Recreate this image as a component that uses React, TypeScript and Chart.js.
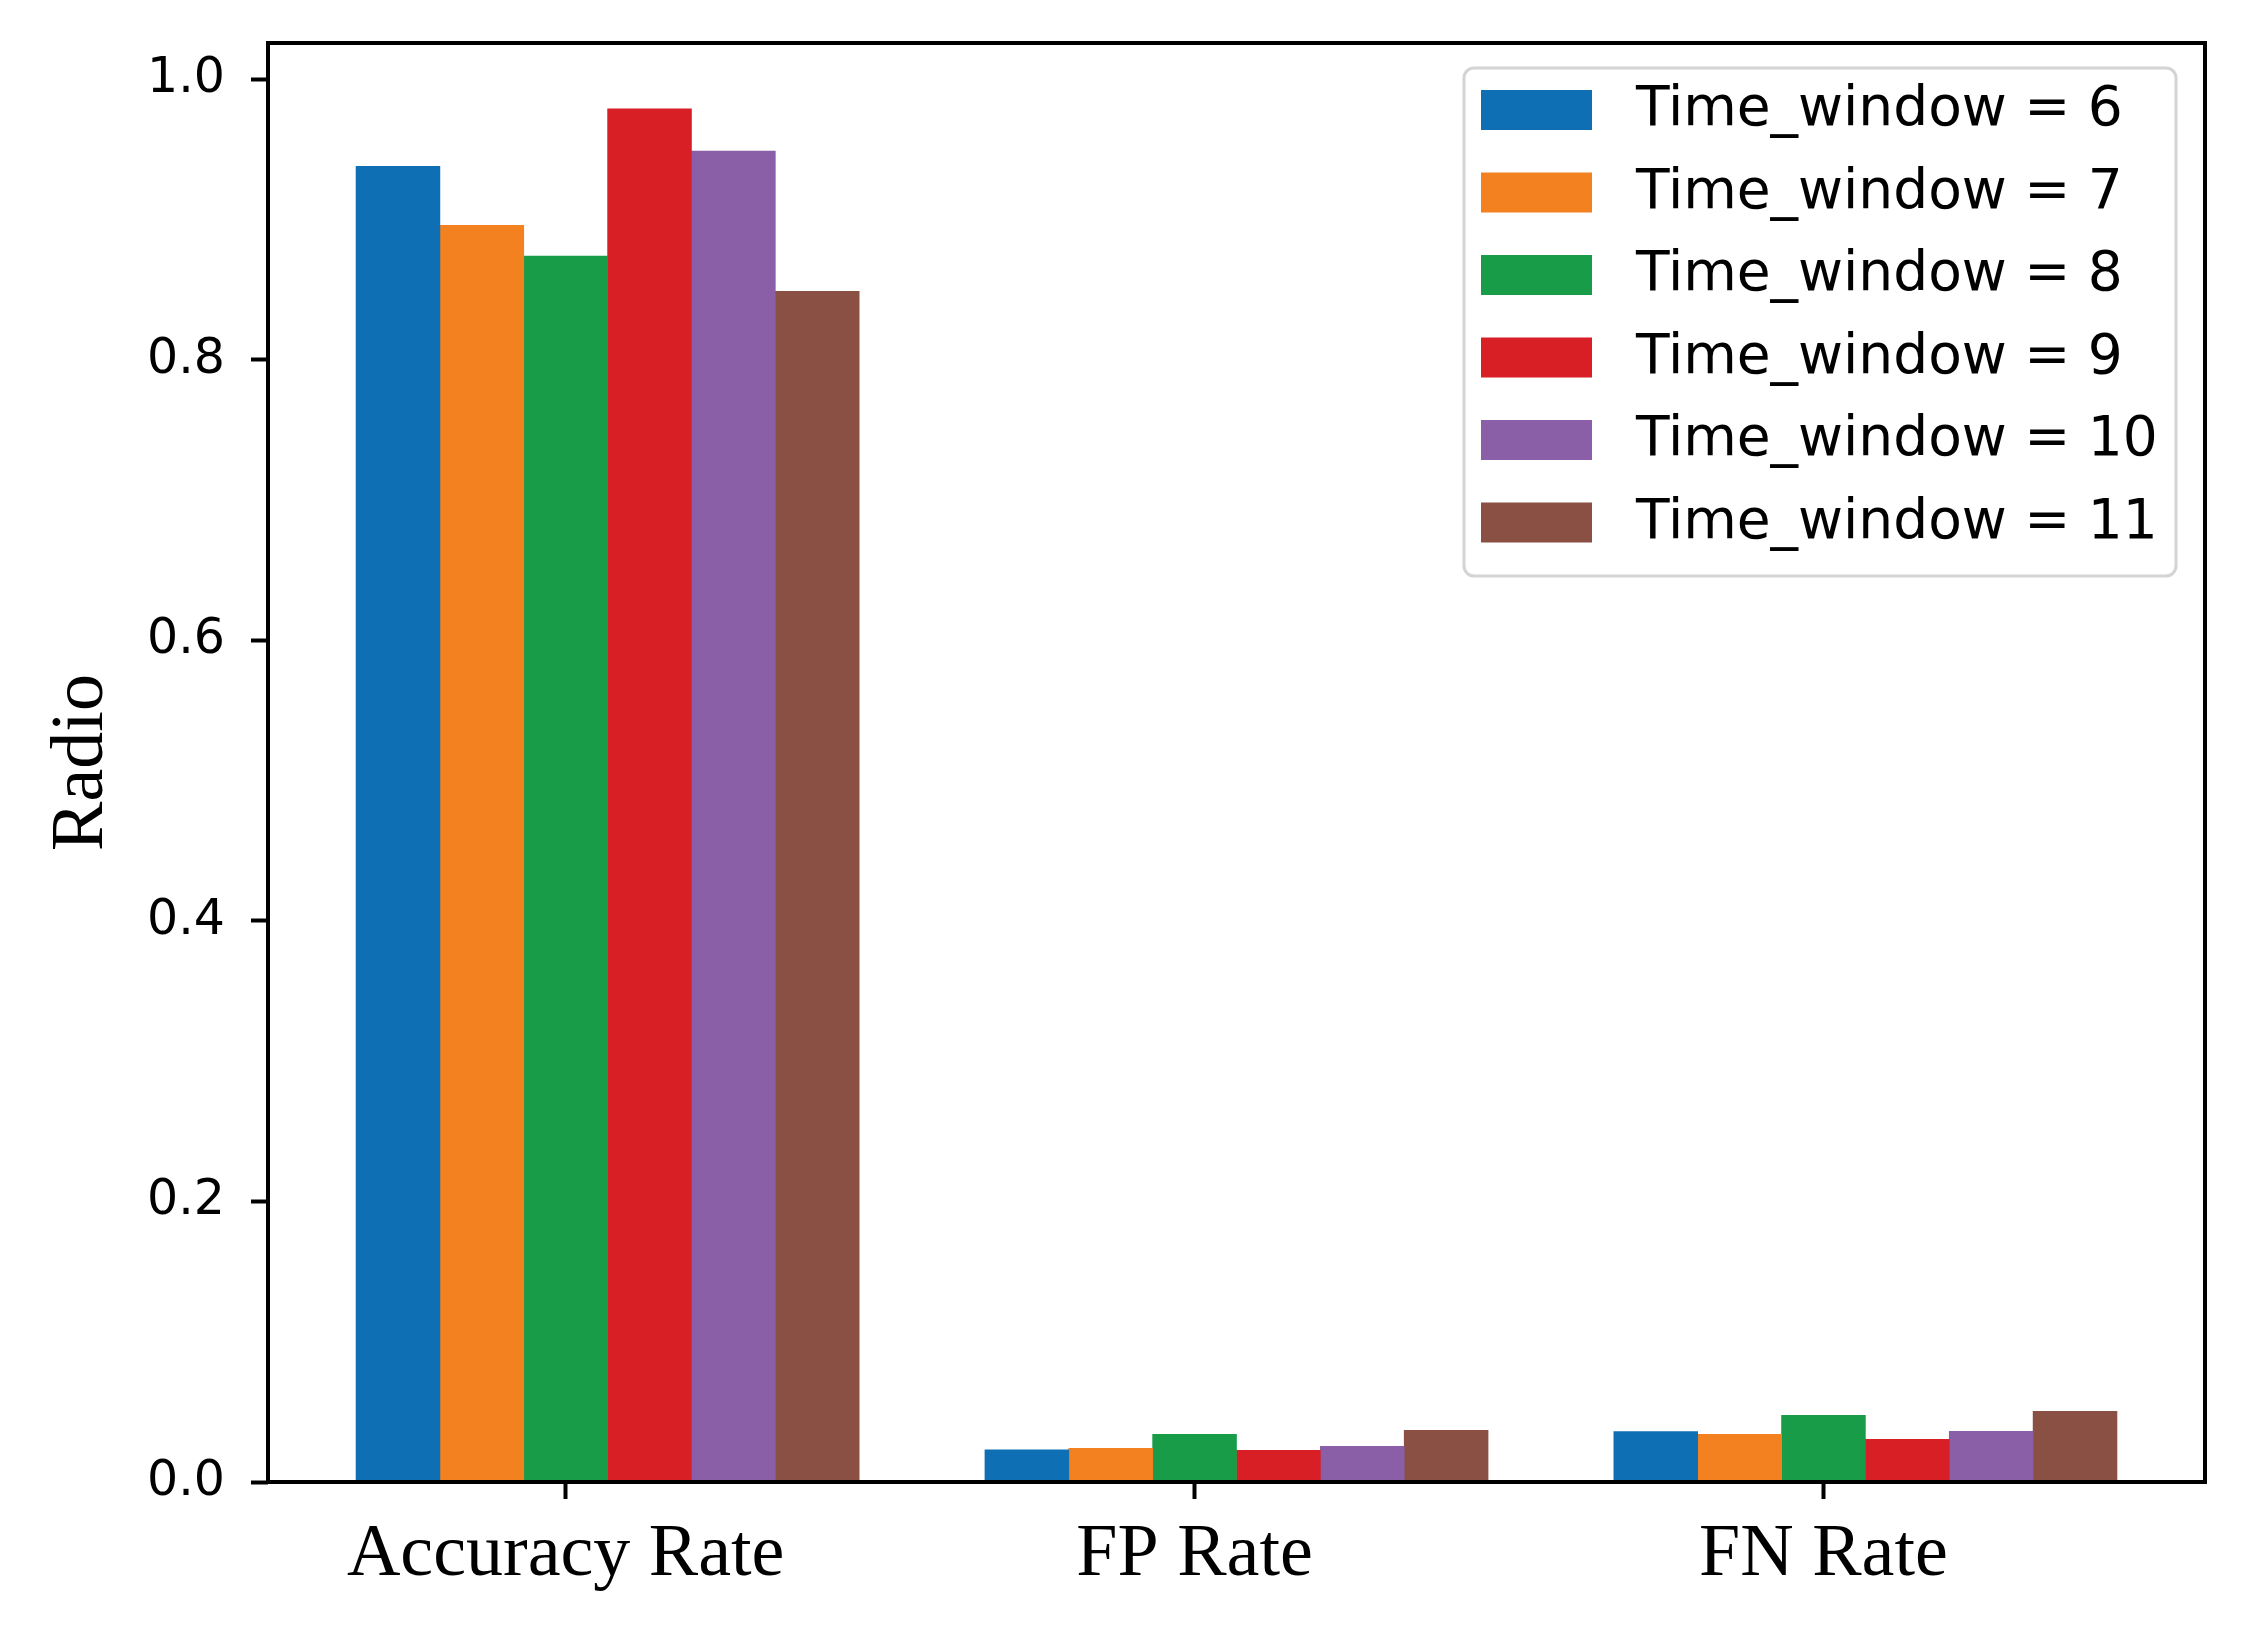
import React, { useEffect, useRef } from 'react';
import { Chart, registerables } from 'chart.js';

Chart.register(...registerables);

const categories = ['Accuracy Rate', 'FP Rate', 'FN Rate'];
const seriesLabels = [
  'Time_window = 6',
  'Time_window = 7',
  'Time_window = 8',
  'Time_window = 9',
  'Time_window = 10',
  'Time_window = 11',
];
const tw6 = [0.938, 0.023, 0.036];
const tw7 = [0.896, 0.024, 0.034];
const tw8 = [0.874, 0.034, 0.0475];
const tw9 = [0.979, 0.0226, 0.0304];
const tw10 = [0.949, 0.0254, 0.0361];
const tw11 = [0.849, 0.0368, 0.0503];
const seriesValues = [tw6, tw7, tw8, tw9, tw10, tw11];
const yTicks = [0, 0.2, 0.4, 0.6, 0.8, 1.0];
const colors = ['#0f6fb4', '#f48120', '#189c47', '#d81f26', '#8a5fa8', '#8a5043'];

const BAR_W = 0.8 / 6;
const X_LO = -2.5 * BAR_W;
const X_HI = categories.length - 1 + 3.5 * BAR_W;
const X_MARGIN = 0.05 * (X_HI - X_LO);
const Y_MAX = 1.026;

const TICK_FONT = { family: 'DejaVu Sans', size: 49 };
const SERIF_FONT = { family: 'Liberation Serif', size: 74 };

const frameAndLegend = {
  id: 'frameAndLegend',
  afterDraw(chart: any) {
    const ctx = chart.ctx as CanvasRenderingContext2D;
    const { left, right, top, bottom } = chart.chartArea;
    ctx.save();
    // frame
    ctx.strokeStyle = '#000';
    ctx.lineWidth = 4;
    ctx.strokeRect(left, top, right - left, bottom - top);

    // legend
    const boxW = 712;
    const boxH = 508;
    const boxL = right - 29 - boxW;
    const boxT = top + 25;
    ctx.beginPath();
    if ((ctx as any).roundRect) {
      (ctx as any).roundRect(boxL, boxT, boxW, boxH, 10);
    } else {
      ctx.rect(boxL, boxT, boxW, boxH);
    }
    ctx.fillStyle = 'rgba(255,255,255,0.85)';
    ctx.fill();
    ctx.strokeStyle = '#d4d4d4';
    ctx.lineWidth = 3;
    ctx.stroke();

    ctx.font = '55px "DejaVu Sans"';
    ctx.textBaseline = 'middle';
    ctx.textAlign = 'left';
    chart.data.datasets.forEach((ds: any, i: number) => {
      const cy = boxT + 42 + i * 82.5;
      ctx.fillStyle = ds.backgroundColor;
      ctx.fillRect(boxL + 17, cy - 20, 111, 40);
      ctx.fillStyle = '#000';
      ctx.fillText(ds.label, boxL + 172, cy + 1);
    });
    ctx.restore();
  },
};

const zeroPadding = (scale: any) => {
  scale.paddingTop = 0;
  scale.paddingBottom = 0;
  scale.paddingLeft = 0;
  scale.paddingRight = 0;
};

export default function App() {
  const canvasRef = useRef<HTMLCanvasElement | null>(null);

  useEffect(() => {
    document.body.style.margin = '0';
    document.body.style.overflow = 'hidden';
    const canvas = canvasRef.current;
    if (!canvas) return;

    const datasets = seriesValues.map((vals, k) => ({
      label: seriesLabels[k],
      backgroundColor: colors[k],
      borderWidth: 0,
      grouped: false,
      barPercentage: 1,
      categoryPercentage: 1,
      data: vals.map((v, g) => ({ x: g + (k - 2) * BAR_W, y: v })),
    }));

    const chart = new Chart(canvas, {
      type: 'bar',
      data: { datasets },
      options: {
        animation: false,
        responsive: false,
        devicePixelRatio: 1,
        layout: { padding: { top: 43, right: 58, left: 0, bottom: 0 } },
        plugins: {
          legend: { display: false },
          tooltip: { enabled: false },
        },
        scales: {
          x: {
            type: 'linear',
            offset: false,
            min: X_LO - X_MARGIN,
            max: X_HI + X_MARGIN,
            afterBuildTicks: (scale: any) => {
              scale.ticks = categories.map((_, i) => ({ value: i }));
            },
            afterFit: (scale: any) => {
              scale.height = 156;
              zeroPadding(scale);
            },
            border: { display: false },
            grid: {
              offset: false,
              drawOnChartArea: false,
              drawTicks: true,
              tickLength: 17,
              tickWidth: 4,
              tickColor: '#000',
            },
            ticks: {
              autoSkip: false,
              maxRotation: 0,
              minRotation: 0,
              padding: 12,
              color: '#000',
              font: SERIF_FONT,
              callback: (v: any) => categories[Math.round(Number(v))] ?? '',
            },
          },
          y: {
            type: 'linear',
            min: 0,
            max: Y_MAX,
            afterBuildTicks: (scale: any) => {
              scale.ticks = yTicks.map((v) => ({ value: v }));
            },
            afterFit: (scale: any) => {
              scale.width = 268;
              zeroPadding(scale);
            },
            border: { display: false },
            grid: {
              offset: false,
              drawOnChartArea: false,
              drawTicks: true,
              tickLength: 17,
              tickWidth: 4,
              tickColor: '#000',
            },
            ticks: {
              padding: 26,
              color: '#000',
              font: TICK_FONT,
              callback: (v: any) => Number(v).toFixed(1),
            },
            title: {
              display: true,
              text: 'Radio',
              color: '#000',
              font: SERIF_FONT,
              padding: { top: 38, bottom: 0 },
            },
          },
        },
      },
      plugins: [frameAndLegend],
    } as any);

    return () => chart.destroy();
  }, []);

  return (
    <canvas
      ref={canvasRef}
      width={2263}
      height={1638}
      style={{ display: 'block', width: '2263px', height: '1638px' }}
    />
  );
}
